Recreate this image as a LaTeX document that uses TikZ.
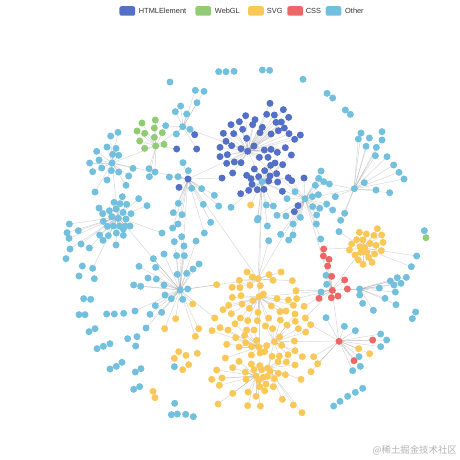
\documentclass[tikz,border=0pt]{standalone}
\usepackage{fontspec}
\setmainfont{Liberation Sans}
\newfontfamily\cjkfont{Noto Sans CJK SC}
\usetikzlibrary{positioning}
\definecolor{htmlc}{HTML}{5470C6}
\definecolor{webglc}{HTML}{91CC75}
\definecolor{svgc}{HTML}{FAC858}
\definecolor{cssc}{HTML}{EE6666}
\definecolor{otherc}{HTML}{73C0DE}
\pgfdeclarelayer{bg}
\pgfsetlayers{bg,main}

% hubs of the force layout: name/x/y in pixels
\def\hublist{hubB/248/151, hubBb/262/182, hubBl/188/179, hubBt/183/127,
  hubG/156/146, hubLa/112/163, hubLb/118/217, hubM/180/290, hubR/305/199,
  hubRb/354/189, hubSa/258/279, hubSb/259/297, hubSc/259/347, hubSd/274/342,
  hubSe/268/368, hubSf/256/376, hubY/363/248, hubCa/332/290, hubCb/339/341,
  hubO/360/289}

% join a point to its nearest hub, if closer than #4
\newcommand\linkhub[4]{%
  \xdef\bestd{#4}\gdef\besth{}%
  \foreach \h/\hx/\hy in \hublist {%
    \pgfmathparse{veclen(#2-\hx,#3-\hy)}%
    \ifdim\pgfmathresult pt<\bestd pt\relax
      \xdef\bestd{\pgfmathresult}\xdef\besth{\h}\fi}%
  \ifx\besth\empty\else\draw[link] (#1) -- (\besth);\fi}

% prefix, x0, y0, colour, reach, list of 3x crop positions
\newcommand\placedots[6]{%
  \begin{pgfonlayer}{bg}
  \foreach \zx/\zy [count=\k] in {#6} {%
    \pgfmathsetmacro\px{#2+\zx/3}%
    \pgfmathsetmacro\py{#3+\zy/3}%
    \coordinate (#1-\k) at (\px,\py);
    \linkhub{#1-\k}{\px}{\py}{#5}}
  \end{pgfonlayer}
  \foreach \zx/\zy [count=\k] in {#6}
    \node[dot,fill=#4] (#1-\k) at (#1-\k) {};}

\begin{document}
\begin{tikzpicture}[x=1pt,y=-1pt,
  dot/.style={circle,inner sep=0pt,minimum size=7pt,draw=none},
  link/.style={draw=black!60,opacity=0.28,line width=0.45pt},
  legbox/.style={rectangle,rounded corners=2pt,minimum width=15.7pt,
    minimum height=9.5pt,inner sep=0pt},
  legtext/.style={font=\fontsize{7.4}{9}\selectfont,text=black!80,inner sep=0pt}]
\useasboundingbox (0,0) rectangle (460,460);

\foreach \h/\hx/\hy in \hublist {\coordinate (\h) at (\hx,\hy);}

% links between hubs
\begin{pgfonlayer}{bg}
\foreach \a/\b in {hubB/hubBt,hubB/hubBl,hubB/hubBb,hubB/hubR,hubBb/hubR,
  hubBb/hubSa,hubBl/hubLa,hubBl/hubM,hubBt/hubG,hubG/hubLa,hubLa/hubLb,
  hubLb/hubM,hubM/hubSa,hubSa/hubSb,hubSb/hubSc,hubSc/hubSd,hubSd/hubSe,
  hubSe/hubSf,hubSb/hubSd,hubR/hubRb,hubR/hubCa,hubCa/hubY,hubCa/hubO,
  hubCa/hubSb,hubCb/hubSd,hubCb/hubCa,hubBb/hubSb,hubR/hubSa,hubBl/hubSa}
  \draw[link] (\a) -- (\b);
\end{pgfonlayer}

% upper left
\placedots{oa}{60}{60}{otherc}{58}{406/91, 432/94, 411/128, 362/138, 346/155,
  380/162, 317/197, 368/200, 390/208, 349/222, 152/228, 174/217, 110/274,
  141/261, 168/265, 117/300, 158/283, 176/286, 89/309, 125/324, 156/309,
  98/335, 154/332, 176/336, 141/360, 219/325, 206/348, 267/326, 285/336,
  268/350, 198/376, 328/351, 354/350, 369/308, 385/332, 395/385, 105/396,
  355/430, 340/458, 366/464, 236/416, 261/437, 187/410, 162/427, 180/431,
  200/433, 117/444, 128/461, 148/452, 168/447, 189/457, 213/461, 155/470,
  175/475, 198/477}
\placedots{ga}{60}{60}{webglc}{58}{246/189, 286/180, 231/213, 254/220, 283/204,
  307/218, 239/243, 283/232, 254/265, 287/258, 312/253}
\placedots{ha}{60}{60}{htmlc}{58}{404/224, 350/267, 410/267, 384/357, 357/382}

% top, loose
\placedots{ot}{60}{60}{otherc}{0}{476/35, 498/35, 330/66}
\placedots{ou}{150}{40}{otherc}{0}{252/94, 337/90, 359/91, 459/118}
\placedots{ov}{200}{90}{otherc}{0}{381/10, 398/24, 436/60, 451/73}

% HTMLElement cluster
\placedots{hb}{200}{90}{htmlc}{58}{210/40, 250/59, 200/73, 223/75, 137/77,
  165/89, 244/96, 266/82, 228/97, 93/104, 118/95, 158/104, 187/112, 253/114,
  235/122, 70/130, 101/131, 128/118, 180/128, 213/132, 267/131, 78/154,
  140/145, 60/172, 95/167, 123/176, 162/168, 193/180, 213/178, 232/187,
  256/173, 60/200, 82/194, 143/184, 178/202, 204/202, 103/216, 123/218,
  80/220, 248/224, 212/226, 225/219, 194/242, 163/237, 230/251, 66/264,
  98/249, 140/256, 153/266, 176/260, 210/258, 206/273, 156/283, 233/276,
  265/263, 122/311, 146/301, 172/299, 192/298, 247/304}
\placedots{ob}{200}{90}{otherc}{58}{5/296, 43/316, 10/343, 56/348, 93/352,
  174/385, 199/345, 220/348, 231/376, 258/378, 261/326, 186/275}
\placedots{sb}{200}{90}{svgc}{58}{152/345}
\placedots{oc}{228}{216}{otherc}{58}{88/12, 118/30, 158/55}

% right middle
\placedots{hc}{290}{120}{htmlc}{58}{14/58, 31/45, 4/105, 42/174, 5/182,
  24/257, 13/275}
\placedots{od}{290}{120}{otherc}{58}{213/39, 205/57, 238/54, 276/35, 276/60,
  228/79, 259/82, 256/107, 291/110, 311/135, 327/157, 342/177, 93/153,
  86/175, 101/185, 118/192, 76/196, 223/188, 193/206, 258/210, 299/218,
  85/224, 67/230, 45/236, 15/215, 136/230, 110/252, 68/260, 89/265, 128/270,
  164/280, 80/285, 31/292, 152/301, 79/312, 147/335, 9/312, 9/345, 92/357,
  380/408, 364/440, 349/472, 322/473, 108/466}
\placedots{oe}{290}{120}{otherc}{0}{403/332}
\placedots{gb}{290}{120}{webglc}{0}{408/353}
\placedots{sc}{290}{120}{svgc}{58}{208/337, 229/342, 262/326, 275/345, 252/346,
  200/359, 219/360, 185/372, 240/370, 258/376, 279/367, 178/390, 210/380,
  224/383, 195/405, 212/397, 230/397, 254/402, 274/392, 205/420, 219/433,
  236/412, 246/427}
\placedots{ca}{290}{120}{cssc}{58}{101/387, 100/408, 117/418, 113/438, 125/469}

% right lower
\placedots{cb}{290}{280}{cssc}{58}{127/31, 172/27, 144/48, 124/53, 87/55,
  147/184, 248/180, 192/242, 164/0}
\placedots{of}{290}{280}{otherc}{58}{110/13, 93/36, 209/27, 209/45, 268/24,
  301/3, 312/15, 333/10, 316/36, 218/70, 250/91, 285/55, 318/74, 108/113,
  163/139, 196/152, 272/162, 290/180, 272/200, 207/230, 211/259, 188/272}
\placedots{og}{290}{280}{otherc}{0}{377/96, 367/116, 218/325, 196/337,
  173/349, 150/364, 131/378}
\placedots{sd}{290}{280}{svgc}{58}{7/2, 18/32, 20/56, 10/76, 42/79, 15/102,
  46/114, 62/134, 16/124, 25/146, 47/156, 13/183, 15/212, 37/230, 71/230,
  83/251, 15/255, 63/275, 33/298, 206/206, 239/221, 10/375, 36/398}

% SVG cluster
\placedots{oh}{160}{240}{otherc}{58}{43/5, 72/18, 12/42, 50/47, 73/47, 326/2,
  386/0, 52/103, 80/100, 99/87, 117/72, 12/135, 61/150, 83/147, 15/165,
  34/176, 68/178, 5/217, 43/380}
\placedots{oi}{160}{240}{otherc}{0}{44/490, 34/524, 52/522, 77/523, 100/530}
\placedots{se}{160}{240}{svgc}{58}{261/96, 277/111, 294/116, 327/104, 363/96,
  339/121, 238/121, 216/142, 240/143, 270/136, 301/137, 170/134, 217/172,
  243/167, 279/182, 297/170, 310/162, 351/176, 385/180, 189/209, 206/196,
  246/192, 268/205, 294/217, 334/198, 360/215, 378/213, 164/234, 214/221,
  241/234, 263/242, 292/242, 326/234, 361/240, 381/255, 116/266, 156/272,
  180/263, 204/270, 225/251, 260/270, 282/270, 316/258, 338/266, 106/289,
  227/293, 254/286, 290/301, 359/291, 200/313, 237/321, 257/308, 275/320,
  297/322, 320/317, 343/305, 365/316, 56/335, 112/340, 43/355, 78/346,
  86/374, 68/389, 196/354, 237/364, 274/345, 300/339, 314/335, 336/349,
  358/348, 384/344, 218/383, 274/372, 299/377, 323/384, 354/365, 379/366,
  170/390, 186/414, 155/418, 178/436, 256/396, 282/389, 305/389, 330/393,
  355/400, 376/404, 258/418, 288/408, 296/421, 309/412, 322/409, 343/416,
  299/440, 318/432, 340/440, 314/452, 218/460, 264/456, 288/469, 367/478,
  174/492, 263/497, 301/498, 47/236, 14/266, 98/192}

% lower left
\placedots{oj}{60}{220}{otherc}{58}{28/12, 21/38, 27/55, 55/32, 63/72, 88/84,
  30/87, 18/116, 130/4, 142/19, 160/18, 178/18, 195/18, 210/18, 119/45,
  145/47, 129/61, 169/39, 190/27, 190/46, 168/75, 67/138, 98/145, 57/168,
  103/176, 338/24, 354/12, 306/39, 365/50, 433/39, 452/7, 408/63, 280/116,
  237/139, 287/142, 264/174, 289/177, 221/195, 242/199, 286/257, 270/283,
  225/273, 191/280, 163/282, 140/282, 258/324, 231/350, 203/356, 227/378}
\placedots{ok}{60}{220}{otherc}{0}{71/236, 92/238, 57/284, 75/284, 87/335,
  105/326, 111/386, 130/379, 150/371, 150/447, 169/439, 186/427, 226/456,
  243/446, 221/508, 239/500}
\placedots{sf}{60}{220}{svgc}{0}{279/514, 285/533}

% legend
\node[legbox,fill=htmlc] (leghtml) at (127.3,11) {};
\node[legtext,anchor=west] (leghtmltxt) at (138.7,11) {HTMLElement};
\node[legbox,fill=webglc] (legwebgl) at (203.3,11) {};
\node[legtext,anchor=west] (legwebgltxt) at (214.7,11) {WebGL};
\node[legbox,fill=svgc] (legsvg) at (255.9,11) {};
\node[legtext,anchor=west] (legsvgtxt) at (266.7,11) {SVG};
\node[legbox,fill=cssc] (legcss) at (295.2,11) {};
\node[legtext,anchor=west] (legcsstxt) at (305.7,11) {CSS};
\node[legbox,fill=otherc] (legother) at (333.5,11) {};
\node[legtext,anchor=west] (legothertxt) at (345,11) {Other};

% watermark
\node[anchor=east,inner sep=0pt,text=black!30,font=\cjkfont\fontsize{9.4}{11}\selectfont]
  (mark) at (457,450.5) {@稀土掘金技术社区};
\end{tikzpicture}
\end{document}
